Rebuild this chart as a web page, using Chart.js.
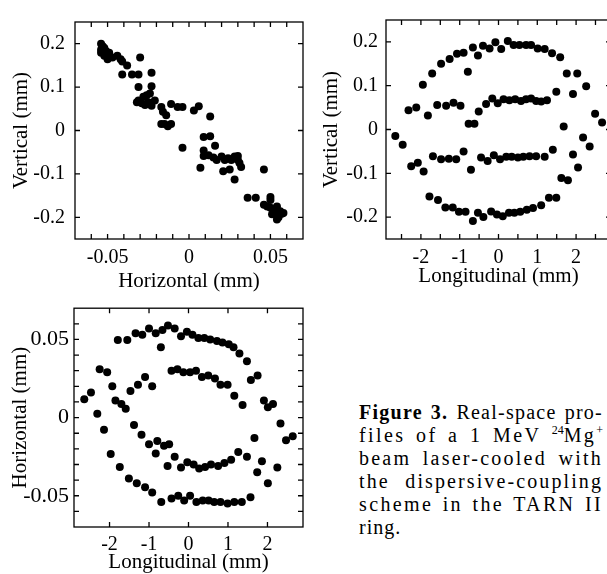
<!DOCTYPE html>
<html>
<head>
<meta charset="utf-8">
<script src="https://cdn.jsdelivr.net/npm/chart.js@4.4.1/dist/chart.umd.min.js"></script>
<style>
  html, body { margin: 0; padding: 0; background: #fff; }
  body { width: 607px; height: 574px; overflow: hidden; position: relative; }
  canvas { position: absolute; }
  #cap { position: absolute; left: 359px; top: 401px; width: 244px; color: #000;
         font: 20px 'Liberation Serif', 'Times New Roman', serif; line-height: 23.1px; }
  #cap div { white-space: nowrap; text-align: left; }
  #cap.ready div { text-align: justify; text-align-last: justify; }
  #cap.ready div.last { text-align-last: left; }
  #cap div.last { letter-spacing: 1px; }
  #cap sup { font-size: 12px; line-height: 0; vertical-align: 8px; letter-spacing: 0; }
</style>
</head>
<body>
<canvas id="p1" width="310" height="300" style="left:0;top:0"></canvas>
<canvas id="p2" width="310" height="300" style="left:310px;top:0"></canvas>
<canvas id="p3" width="310" height="300" style="left:0;top:290px"></canvas>
<div id="cap">
  <div><span><b>Figure 3.</b> Real-space pro-</span></div>
  <div><span>files of a 1 MeV <sup>24</sup>Mg<sup>+</sup></span></div>
  <div><span>beam laser-cooled with</span></div>
  <div><span>the dispersive-coupling</span></div>
  <div><span>scheme in the TARN II</span></div>
  <div class="last">ring.</div>
</div>
<script>
// panel 1: vertical vs horizontal (mm)
const p1Horizontal = [-0.054,-0.053,-0.054,-0.052,-0.054,-0.051,-0.050,-0.052,-0.049,-0.050,-0.047,-0.044,-0.042,-0.041,-0.038,-0.030,
  -0.041,-0.035,-0.031,-0.023,-0.031,-0.023,-0.024,-0.026,-0.028,-0.031,-0.032,-0.029,-0.027,-0.025,-0.023,-0.021,
  -0.017,-0.016,-0.014,-0.011,-0.007,-0.004,0.003,0.006,0.013,-0.017,-0.015,-0.013,-0.011,-0.004,0.009,0.013,
  0.016,0.009,0.009,0.012,0.015,0.017,0.020,0.022,0.024,0.026,0.028,0.030,0.031,0.032,0.030,0.007,0.021,0.025,
  0.028,0.046,0.036,0.041,0.050,0.050,0.046,0.048,0.050,0.053,0.054,0.056,0.057,0.053,0.055,0.058,0.054,0.051];
const p1Vertical = [0.2,0.194,0.186,0.19,0.179,0.183,0.175,0.172,0.179,0.164,0.168,0.172,0.164,0.159,0.150,0.168,
  0.129,0.129,0.129,0.133,0.1,0.102,0.085,0.081,0.078,0.069,0.065,0.063,0.059,0.065,0.057,0.069,
  0.054,0.043,0.035,0.061,0.054,0.054,0.046,0.056,0.032,0.015,0.015,0.010,0.015,-0.040,-0.015,-0.013,
  -0.035,-0.046,-0.059,-0.057,-0.062,-0.068,-0.060,-0.068,-0.064,-0.068,-0.060,-0.068,-0.075,-0.084,-0.059,-0.086,-0.094,-0.090,
  -0.113,-0.090,-0.155,-0.155,-0.153,-0.160,-0.171,-0.175,-0.178,-0.182,-0.175,-0.186,-0.192,-0.193,-0.2,-0.190,-0.205,-0.193];

// panel 2: vertical vs longitudinal (mm)
const p2Longitudinal = [
  -1.95,-1.71,-1.48,-1.26,-1.07,-0.90,-0.79,-0.66,-0.53,-0.40,-0.23,-0.08,0.07,0.24,0.39,0.54,0.71,0.84,1.01,1.19,1.38,1.59,1.76,2.03,1.92,2.26,2.49,2.67,
  -2.32,-2.12,-1.82,-1.58,-1.35,-1.16,-0.98,-0.77,-0.62,-0.51,-0.32,-0.16,-0.02,0.13,0.28,0.43,0.58,0.71,0.84,0.97,1.10,1.25,1.49,1.68,2.18,2.35,-2.66,-2.47,
  -2.25,-2.08,-1.93,-1.69,-1.48,-1.28,-1.09,-0.90,-0.71,-0.45,-0.28,-0.12,0.04,0.20,0.34,0.50,0.64,0.80,0.97,1.19,1.40,1.62,1.79,1.92,2.05,
  -1.78,-1.56,-1.37,-1.18,-1.02,-0.85,-0.66,-0.53,-0.39,-0.19,-0.04,0.11,0.27,0.41,0.56,0.73,0.89,1.10,1.30,1.49];
const p2Vertical = [
  0.102,0.128,0.150,0.161,0.173,0.175,0.132,0.187,0.169,0.191,0.185,0.199,0.184,0.202,0.193,0.193,0.193,0.193,0.185,0.184,0.174,0.165,0.128,0.128,0.081,0.099,0.036,0.016,
  0.044,0.050,0.032,0.056,0.054,0.061,0.054,0.013,0.013,0.041,0.058,0.071,0.060,0.069,0.067,0.069,0.065,0.069,0.071,0.065,0.064,0.067,0.086,0.007,-0.018,-0.039,-0.015,-0.035,
  -0.084,-0.076,-0.096,-0.061,-0.068,-0.067,-0.068,-0.050,-0.092,-0.064,-0.072,-0.059,-0.068,-0.062,-0.062,-0.064,-0.062,-0.061,-0.061,-0.062,-0.046,-0.111,-0.116,-0.057,-0.087,
  -0.153,-0.161,-0.178,-0.178,-0.188,-0.188,-0.209,-0.190,-0.2,-0.187,-0.194,-0.198,-0.190,-0.190,-0.188,-0.183,-0.179,-0.173,-0.156,-0.156];

// panel 3: horizontal vs longitudinal (mm)
const p3Longitudinal = [
  -1.79,-1.55,-1.34,-1.17,-1.0,-0.83,-0.66,-0.70,-0.52,-0.35,-0.19,-0.04,0.10,0.25,0.40,0.55,0.72,0.86,1.02,1.14,1.29,1.48,1.58,1.75,1.91,2.01,2.14,2.33,2.47,2.64,
  -2.64,-2.47,-2.25,-2.06,-1.93,-1.85,-1.70,-1.59,-1.47,-1.28,-1.10,-0.92,-0.43,-0.28,-0.13,0.04,0.19,0.34,0.50,0.67,0.81,0.99,1.16,1.37,1.67,1.74,1.86,2.01,2.25,
  -2.31,-2.14,-1.38,-1.19,-1.0,-0.79,-0.62,-0.49,-0.83,-0.53,-0.35,-0.19,-0.03,0.13,0.27,0.42,0.57,0.75,0.91,1.08,1.26,1.48,
  -1.97,-1.74,-1.51,-1.31,-1.10,-0.92,-0.69,-0.43,-0.26,-0.11,0.04,0.20,0.36,0.51,0.65,0.81,0.99,1.16,1.35,1.57];
const p3Horizontal = [
  0.0496,0.0496,0.054,0.053,0.057,0.054,0.056,0.045,0.059,0.057,0.052,0.055,0.053,0.051,0.051,0.050,0.049,0.048,0.047,0.045,0.041,0.036,0.024,0.027,0.011,0.0066,0.0087,-0.0037,-0.0145,-0.012,
  0.0118,0.016,0.031,0.029,0.020,0.011,0.0087,0.0056,0.017,0.021,0.026,0.020,0.030,0.031,0.029,0.029,0.030,0.026,0.027,0.025,0.021,0.021,0.014,0.008,-0.013,-0.035,-0.028,-0.042,-0.032,
  0.0025,-0.0078,-0.0048,-0.011,-0.017,-0.015,-0.018,-0.017,-0.023,-0.031,-0.025,-0.032,-0.0285,-0.030,-0.0326,-0.0316,-0.030,-0.031,-0.029,-0.027,-0.022,-0.025,
  -0.0233,-0.0316,-0.039,-0.042,-0.0446,-0.048,-0.054,-0.0517,-0.050,-0.053,-0.050,-0.054,-0.053,-0.053,-0.054,-0.054,-0.055,-0.054,-0.054,-0.051];

// tick labels and tick marks
const p1XTicks = [-0.05, 0, 0.05];
const p1YTicks = [-0.2, -0.1, 0, 0.1, 0.2];
const p1XMinor = [-0.06,-0.05,-0.04,-0.03,-0.02,-0.01,0,0.01,0.02,0.03,0.04,0.05,0.06];
const longTicks = [-2, -1, 0, 1, 2];
const longMinor = [-2.5,-2,-1.5,-1,-0.5,0,0.5,1,1.5,2,2.5];
const p3YTicks = [-0.05, 0, 0.05];
const p3YMinor = [-0.06,-0.05,-0.04,-0.03,-0.02,-0.01,0,0.01,0.02,0.03,0.04,0.05,0.06];

const FONT = "'Liberation Serif', 'Times New Roman', serif";

// frame + inward tick marks on all four sides
const frameTicks = {
  id: 'frameTicks',
  afterDraw(chart, args, o) {
    const { ctx, chartArea: a, scales: { x, y } } = chart;
    const L = 5;
    ctx.save();
    ctx.strokeStyle = '#000';
    ctx.lineWidth = 1.3;
    ctx.strokeRect(a.left, a.top, a.right - a.left, a.bottom - a.top);
    ctx.beginPath();
    o.xBottom.forEach(v => { const p = x.getPixelForValue(v); ctx.moveTo(p, a.bottom); ctx.lineTo(p, a.bottom - L); });
    o.xTop.forEach(v => { const p = x.getPixelForValue(v); ctx.moveTo(p, a.top); ctx.lineTo(p, a.top + L); });
    o.yMarks.forEach(v => {
      const p = y.getPixelForValue(v);
      ctx.moveTo(a.left, p); ctx.lineTo(a.left + L, p);
      ctx.moveTo(a.right, p); ctx.lineTo(a.right - L, p);
    });
    ctx.stroke();
    ctx.restore();
  }
};

function makePanel(id, xs, ys, c) {
  new Chart(document.getElementById(id), {
    type: 'scatter',
    data: {
      datasets: [{
        data: xs.map((v, i) => ({ x: v, y: ys[i] })),
        backgroundColor: '#000',
        borderWidth: 0,
        pointRadius: 4,
        pointHoverRadius: 4
      }]
    },
    options: {
      responsive: false,
      animation: false,
      events: [],
      layout: { padding: { left: 0, top: c.top, right: c.right, bottom: 0 } },
      plugins: {
        legend: { display: false },
        tooltip: { enabled: false },
        frameTicks: c.marks
      },
      scales: {
        x: {
          type: 'linear', min: c.xMin, max: c.xMax,
          afterBuildTicks: s => { s.ticks = c.xTicks.map(v => ({ value: v })); },
          afterFit: s => { s.height = c.xHeight; },
          grid: { display: false, drawTicks: false },
          border: { display: false },
          ticks: { color: '#000', font: { family: FONT, size: 20 }, padding: c.xPad, maxRotation: 0, autoSkip: false, callback: v => String(v) },
          title: { display: true, text: c.xTitle, color: '#000', font: { family: FONT, size: 21, lineHeight: 1 }, padding: { top: 0, bottom: c.xTitlePad } }
        },
        y: {
          type: 'linear', min: c.yMin, max: c.yMax,
          afterBuildTicks: s => { s.ticks = c.yTicks.map(v => ({ value: v })); },
          afterFit: s => { s.width = c.yWidth; },
          grid: { display: false, drawTicks: false },
          border: { display: false },
          ticks: { color: '#000', font: { family: FONT, size: c.yFont }, padding: c.yPad, autoSkip: false, callback: v => String(v) },
          title: { display: true, text: c.yTitle, color: '#000', font: { family: FONT, size: 21, lineHeight: 1 }, padding: { top: c.yTitlePad, bottom: 0 } }
        }
      }
    },
    plugins: [frameTicks]
  });
}

makePanel('p1', p1Horizontal, p1Vertical, {
  xMin: -0.07, xMax: 0.07, yMin: -0.25, yMax: 0.25,
  xTicks: p1XTicks, yTicks: p1YTicks,
  marks: { xBottom: p1XMinor, xTop: p1XMinor, yMarks: p1YTicks },
  top: 13, right: 7, xHeight: 61, yWidth: 75,
  xPad: 7, yPad: 10, yFont: 20, xTitlePad: 8, yTitlePad: 11,
  xTitle: 'Horizontal (mm)', yTitle: 'Vertical (mm)'
});

makePanel('p2', p2Longitudinal, p2Vertical, {
  xMin: -2.9, xMax: 2.9, yMin: -0.25, yMax: 0.25,
  xTicks: longTicks, yTicks: p1YTicks,
  marks: { xBottom: longMinor, xTop: longMinor, yMarks: p1YTicks },
  top: 13, right: 9, xHeight: 61, yWidth: 76,
  xPad: 7, yPad: 8, yFont: 20, xTitlePad: 13, yTitlePad: 11,
  xTitle: 'Longitudinal (mm)', yTitle: 'Vertical (mm)'
});

makePanel('p3', p3Longitudinal, p3Horizontal, {
  xMin: -2.9, xMax: 2.9, yMin: -0.07, yMax: 0.07,
  xTicks: longTicks, yTicks: p3YTicks,
  marks: { xBottom: longTicks, xTop: longTicks, yMarks: p3YMinor },
  top: 9, right: 7, xHeight: 63, yWidth: 74,
  xPad: 6, yPad: 5, yFont: 22, xTitlePad: 17, yTitlePad: 10,
  xTitle: 'Longitudinal (mm)', yTitle: 'Horizontal (mm)'
});

// spread each caption line to the column width, mostly through letter spacing
const cap = document.getElementById('cap');
cap.querySelectorAll('div span').forEach(sp => {
  const w = sp.getBoundingClientRect().width;
  const n = sp.textContent.length;
  const ls = Math.max(0, (244 - w) / n) * 0.85;
  sp.parentElement.style.letterSpacing = ls.toFixed(2) + 'px';
});
cap.classList.add('ready');
</script>
</body>
</html>
